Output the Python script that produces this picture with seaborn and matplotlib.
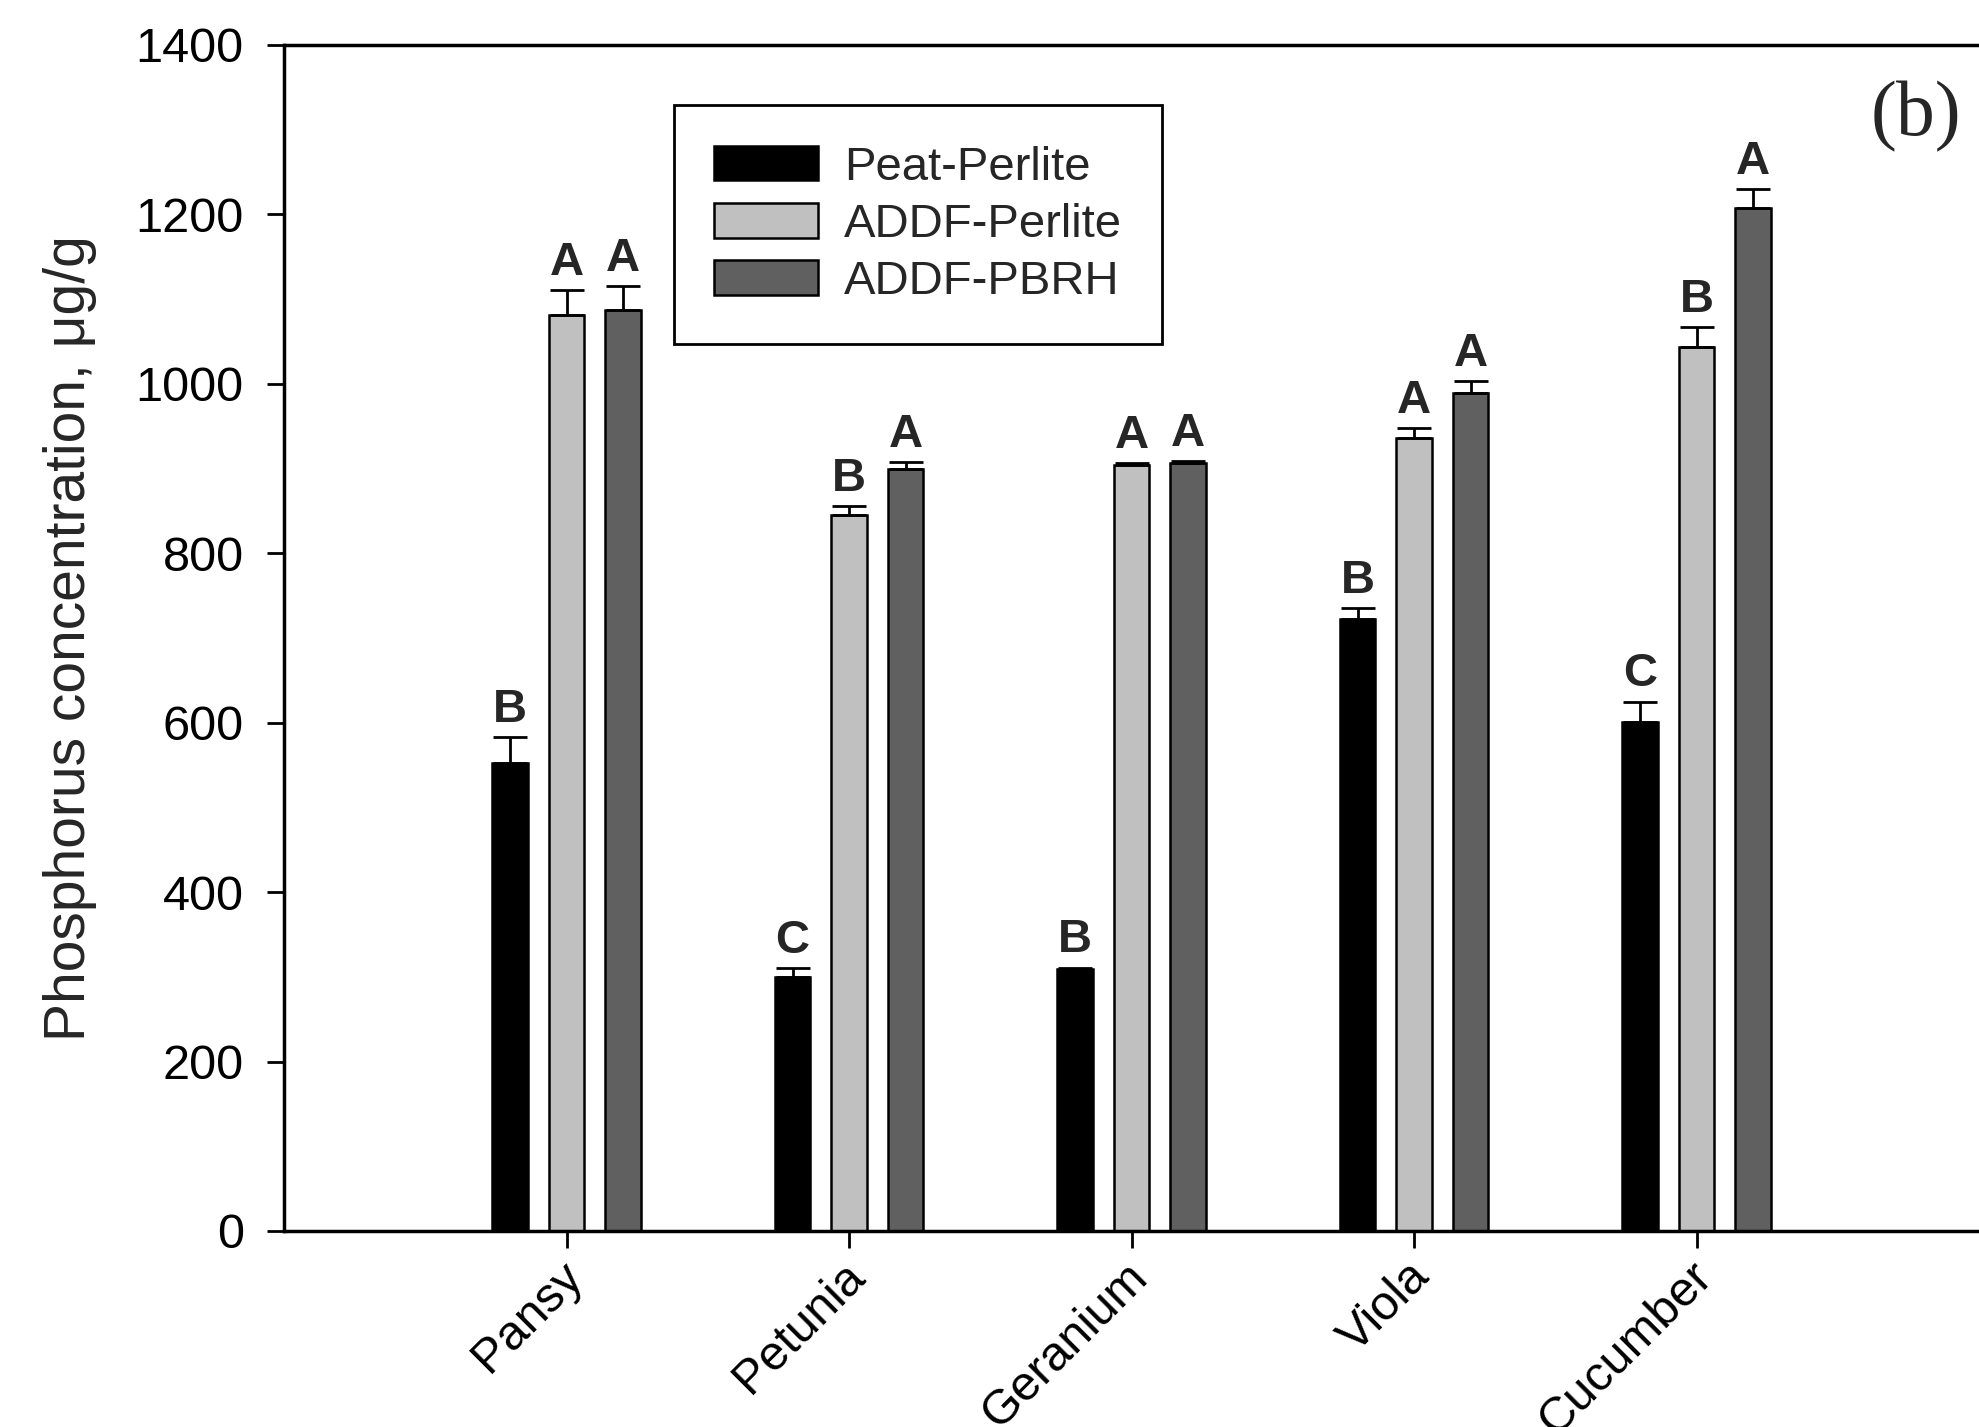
import matplotlib
matplotlib.use("Agg")
import matplotlib.pyplot as plt
import matplotlib.transforms as mtransforms
import seaborn as sns
import pandas as pd
import numpy as np

crops = ["Pansy", "Petunia", "Geranium", "Viola", "Cucumber"]
substrates = ["Peat-Perlite", "ADDF-Perlite", "ADDF-PBRH"]
peat_perlite = [553, 300, 309, 723, 601]
addf_perlite = [1081, 845, 904, 936, 1044]
addf_pbrh = [1087, 899, 907, 989, 1208]
peat_perlite_err = [30, 10, 2, 12, 24]
addf_perlite_err = [30, 11, 2, 12, 23]
addf_pbrh_err = [28, 9, 2, 14, 22]
letters_peat_perlite = ["B", "C", "B", "B", "C"]
letters_addf_perlite = ["A", "B", "A", "A", "B"]
letters_addf_pbrh = ["A", "A", "A", "A", "A"]
colors = ["#000000", "#C0C0C0", "#606060"]
yticks = [0, 200, 400, 600, 800, 1000, 1200, 1400]

values = [peat_perlite, addf_perlite, addf_pbrh]
errs = [peat_perlite_err, addf_perlite_err, addf_pbrh_err]
letters = [letters_peat_perlite, letters_addf_perlite, letters_addf_pbrh]

rows = []
for s, vals in zip(substrates, values):
    for c, v in zip(crops, vals):
        rows.append({"crop": c, "substrate": s, "value": v})
df = pd.DataFrame(rows)

sns.set_theme(style="white")
plt.rcParams['font.family'] = ['Liberation Sans', 'DejaVu Sans']

fig = plt.figure(figsize=(19.79, 14.27), dpi=100)
ax = fig.add_axes([284/1979, 1-1231/1427, (1979-284)/1979, (1231-45)/1427])

sns.barplot(data=df, x="crop", y="value", hue="substrate", order=crops,
            hue_order=substrates, palette=colors, width=0.6, gap=0.375,
            edgecolor="black", linewidth=1.8, errorbar=None, ax=ax)

bar_containers = list(ax.containers)[:3]
for i, cont in enumerate(bar_containers):
    xs = [b.get_x() + b.get_width()/2 for b in cont]
    hs = [b.get_height() for b in cont]
    e = errs[i]
    ax.errorbar(xs, hs, yerr=[np.zeros(len(e)), e], fmt='none', ecolor='black',
                elinewidth=2, capsize=12, capthick=2, zorder=3)
    for x, h, ee, lab in zip(xs, hs, e, letters[i]):
        ax.annotate(lab, (x, h + ee), xytext=(0, 11), textcoords='offset points',
                    ha='center', va='baseline', fontsize=34, fontweight='bold')

ax.set_xlim(-1, 5)
ax.set_ylim(0, 1400)
ax.set_yticks(yticks)
ax.set_xlabel("")
ax.set_ylabel("Phosphorus concentration, μg/g", fontsize=41, labelpad=28)

for side in ["left", "bottom", "top"]:
    ax.spines[side].set_visible(True)
    ax.spines[side].set_color("black")
    ax.spines[side].set_linewidth(2.5)
ax.spines["right"].set_visible(False)

ax.tick_params(axis='y', which='both', direction='out', length=12, width=2,
               pad=17, labelsize=35, left=True, colors='black')
ax.tick_params(axis='x', which='both', direction='out', length=12, width=2,
               pad=16, labelsize=35, bottom=True, colors='black')
shift = mtransforms.ScaledTranslation(9/100, 0, fig.dpi_scale_trans)
for lbl in ax.get_xticklabels():
    lbl.set_rotation(45)
    lbl.set_ha('right')
    lbl.set_va('center')
    lbl.set_rotation_mode('anchor')
    lbl.set_transform(lbl.get_transform() + shift)

leg = ax.legend(loc='upper left', bbox_to_anchor=(0.23, 0.949), fontsize=34,
                frameon=True, fancybox=False, framealpha=1, edgecolor='black',
                handlelength=2.2, handleheight=0.75, handletextpad=0.55,
                borderpad=0.85, labelspacing=0.28, borderaxespad=0)
leg.get_frame().set_linewidth(2)
for p in leg.get_patches():
    p.set_edgecolor('black')
    p.set_linewidth(1.8)

ax.text(0.963, 0.940, "(b)", transform=ax.transAxes, ha='center', va='center',
        fontsize=56, family=['Liberation Serif', 'DejaVu Serif'])

fig.savefig("out.png", dpi=100)
